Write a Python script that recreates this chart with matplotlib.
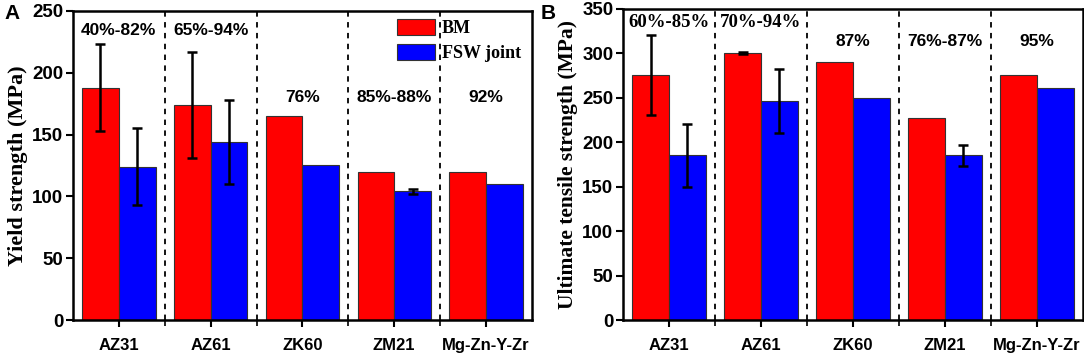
import numpy as np
import matplotlib
matplotlib.use("Agg")
from matplotlib import pyplot as plt

alloys = ["AZ31", "AZ61", "ZK60", "ZM21", "Mg-Zn-Y-Zr"]

ys_bm = [188, 174, 165, 120, 120]
ys_bm_err = [35, 43, 0, 0, 0]
ys_fsw = [124, 144, 125, 104, 110]
ys_fsw_err = [31, 34, 0, 2, 0]
ys_pct = ["40%-82%", "65%-94%", "76%", "85%-88%", "92%"]

uts_bm = [275, 300, 290, 227, 275]
uts_bm_err = [45, 1, 0, 0, 0]
uts_fsw = [185, 246, 250, 185, 261]
uts_fsw_err = [35, 36, 0, 12, 0]
uts_pct = ["60%-85%", "70%-94%", "87%", "76%-87%", "95%"]

sans = "Liberation Sans"
serif = "Liberation Serif"


def draw_panel(ax, bm, bm_err, fsw, fsw_err, pct, pct_y, ymax, ylabel, ylab_size,
               serif_pct=()):
    x = np.arange(len(alloys))
    w = 0.4
    ekw = dict(elinewidth=1.8, capthick=1.8, capsize=3.5, ecolor="black")
    ax.bar(x - w / 2, bm, w, color="#ff0000", edgecolor="#333333", linewidth=0.8,
           label="BM", zorder=2)
    ax.bar(x + w / 2, fsw, w, color="#0000ff", edgecolor="#333333", linewidth=0.8,
           label="FSW joint", zorder=2)
    for xi, v, e in zip(x - w / 2, bm, bm_err):
        if e:
            ax.errorbar(xi, v, yerr=e, fmt="none", zorder=3, **ekw)
    for xi, v, e in zip(x + w / 2, fsw, fsw_err):
        if e:
            ax.errorbar(xi, v, yerr=e, fmt="none", zorder=3, **ekw)
    for b in x[:-1] + 0.5:
        ax.axvline(b, color="black", linestyle=(0, (3, 3)), linewidth=1.3, zorder=1)
    for i, (t, yv) in enumerate(zip(pct, pct_y)):
        if i in serif_pct:
            ax.text(i, yv, t, ha="center", va="center", fontsize=13.5,
                    fontweight="bold", family=serif)
        else:
            ax.text(i, yv, t, ha="center", va="center", fontsize=12.5,
                    fontweight="bold", family=sans)
    ax.set_xlim(-0.5, len(alloys) - 0.5)
    ax.set_ylim(0, ymax)
    ax.set_xticks(x)
    ax.set_xticks(x[:-1] + 0.5, minor=True)
    ax.set_xticklabels(alloys, fontsize=12, fontweight="bold", family=sans)
    ax.set_yticks(np.arange(0, ymax + 1, 50))
    for lab in ax.get_yticklabels():
        lab.set_fontsize(13.5)
        lab.set_fontweight("bold")
        lab.set_family(sans)
    ax.tick_params(axis="x", which="major", length=5, width=1.5, pad=8)
    ax.tick_params(axis="x", which="minor", length=4, width=1.2)
    ax.tick_params(axis="y", length=5, width=1.5, pad=2)
    for s in ax.spines.values():
        s.set_linewidth(1.8)
    ax.set_ylabel(ylabel, fontsize=ylab_size, fontweight="bold", family=serif,
                  labelpad=3)


fig = plt.figure(figsize=(10.84, 3.59), dpi=100)
axA = fig.add_axes([0.0673, 0.1086, 0.4234, 0.861])
axB = fig.add_axes([0.5747, 0.1086, 0.4244, 0.867])

draw_panel(axA, ys_bm, ys_bm_err, ys_fsw, ys_fsw_err, ys_pct,
           [234, 234, 180, 180, 180], 250, "Yield strength (MPa)", 16)
draw_panel(axB, uts_bm, uts_bm_err, uts_fsw, uts_fsw_err, uts_pct,
           [334, 334, 313, 313, 313], 350, "Ultimate tensile strength (MPa)", 15.5,
           serif_pct=(0, 1))

leg = axA.legend(loc="upper right", bbox_to_anchor=(1.0, 1.01), frameon=False,
                 prop=dict(family=serif, weight="bold", size=13),
                 handlelength=2.1, handleheight=1.0, handletextpad=0.4,
                 labelspacing=0.4, borderaxespad=0.2)

fig.text(0.004, 0.962, "A", fontsize=15, fontweight="bold", family=sans, va="center")
fig.text(0.499, 0.962, "B", fontsize=15, fontweight="bold", family=sans, va="center")

fig.savefig("out.png", dpi=100)
